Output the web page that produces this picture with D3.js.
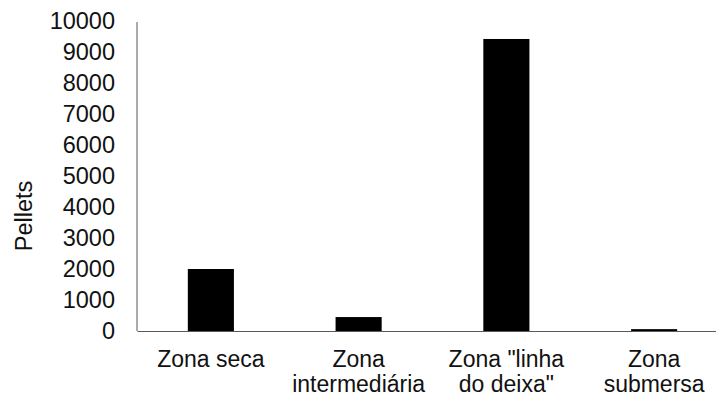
<!DOCTYPE html>
<html>
<head>
<meta charset="utf-8">
<script src="https://cdn.jsdelivr.net/npm/d3@7"></script>
<style>
  body { margin: 0; background: #fff; }
  svg { display: block; font-family: "Liberation Sans", Arial, sans-serif; }
</style>
</head>
<body>
<svg id="chart_svg" width="716" height="396"></svg>
<script>
// zones along the beach profile
const categories = ['Zona seca', 'Zona intermediária', 'Zona "linha do deixa"', 'Zona submersa'];
const categoryLines = [['Zona seca'], ['Zona', 'intermediária'], ['Zona "linha', 'do deixa"'], ['Zona', 'submersa']];
const pellets = [2000, 450, 9420, 60];
const yTicks = [0, 1000, 2000, 3000, 4000, 5000, 6000, 7000, 8000, 9000, 10000];

const margin = { top: 21, bottom: 65, left: 137, right: -12 };

let svg = d3.select('#chart_svg');
let width = +svg.attr('width');
let height = +svg.attr('height');

const xScale = d3.scaleBand()
    .domain(categories)
    .range([margin.left, width - margin.right])
    .paddingInner(0.688)
    .paddingOuter(0.344);

const yScale = d3.scaleLinear()
    .domain([0, 10000])
    .range([height - margin.bottom, margin.top]);

/**
 * bars
 */
svg.append('g')
    .selectAll('rect')
    .data(pellets)
    .enter()
    .append('rect')
    .attr('x', (d, i) => xScale(categories[i]))
    .attr('width', xScale.bandwidth())
    .attr('y', (d) => yScale(d))
    .attr('height', (d) => yScale(0) - yScale(d))
    .attr('fill', '#000');

/**
 * y axis: line + labels, no tick marks
 */
let y_axis = d3.axisLeft(yScale)
    .tickValues(yTicks)
    .tickFormat(d3.format('d'))
    .tickSize(0)
    .tickPadding(22);

let gy = svg.append('g')
    .attr('transform', 'translate(' + margin.left + ',0)')
    .call(y_axis);
gy.select('.domain').attr('stroke', '#595959').attr('d', `M0,${yScale(10000) + 1}V${yScale(0)}`);
gy.selectAll('text')
    .attr('font-size', 23.5)
    .attr('font-family', '"Liberation Sans", Arial, sans-serif')
    .attr('fill', '#111');

/**
 * x axis: baseline + two-line labels
 */
let x_axis = d3.axisBottom(xScale).tickSize(0).tickFormat('');

let gx = svg.append('g')
    .attr('transform', 'translate(0,' + yScale(0) + ')')
    .call(x_axis);
gx.select('.domain').attr('stroke', '#595959');

let xlab = svg.append('g')
    .selectAll('text')
    .data(categories)
    .enter()
    .append('text')
    .attr('x', (d) => xScale(d) + xScale.bandwidth() / 2)
    .attr('y', yScale(0) + 36)
    .attr('text-anchor', 'middle')
    .attr('font-size', 23)
    .attr('fill', '#111');

xlab.selectAll('tspan')
    .data((d, i) => categoryLines[i])
    .enter()
    .append('tspan')
    .attr('x', function () { return this.parentNode.getAttribute('x'); })
    .attr('dy', (d, j) => j === 0 ? 0 : 24.5)
    .text((d) => d);

/**
 * y axis title
 */
svg.append('text')
    .attr('transform', 'translate(32,216) rotate(-90)')
    .attr('text-anchor', 'middle')
    .attr('font-size', 23.5)
    .attr('fill', '#111')
    .text('Pellets');
</script>
</body>
</html>
